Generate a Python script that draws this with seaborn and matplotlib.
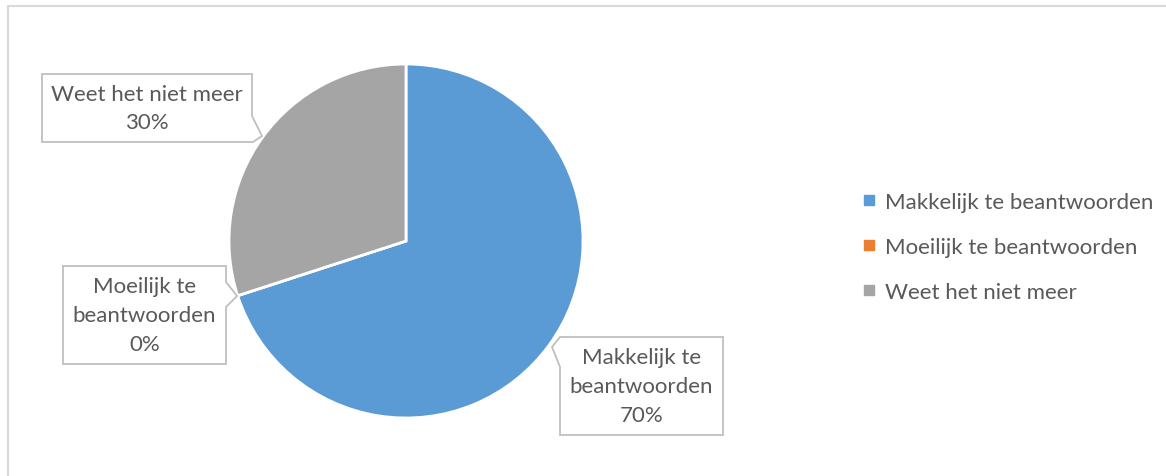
import matplotlib
matplotlib.use("Agg")
import matplotlib.pyplot as plt
from matplotlib.patches import Polygon, Rectangle
from matplotlib.lines import Line2D
import seaborn as sns

categories = ["Makkelijk te beantwoorden", "Moeilijk te beantwoorden", "Weet het niet meer"]
label_texts = ["Makkelijk te\nbeantwoorden", "Moeilijk te\nbeantwoorden", "Weet het niet meer"]
values = [70, 0, 30]
colors = ["#5B9BD5", "#ED7D31", "#A5A5A5"]

sns.set_theme(style="white")
plt.rcParams["font.family"] = ["Lato", "DejaVu Sans"]

W, H = 1166, 477
fig = plt.figure(figsize=(W / 100, H / 100), dpi=100)
ax = fig.add_axes([0, 0, 1, 1])
ax.set_xlim(0, W)
ax.set_ylim(0, H)
ax.axis("off")

def Y(y):
    return H - y

# chart frame (only top and left edges visible)
ax.add_patch(Rectangle((8, Y(7) - 600), 1400, 600, fill=False,
                       edgecolor="#D9D9D9", linewidth=1.5, zorder=0))

wedges, _ = ax.pie(values, colors=colors, startangle=90, counterclock=False,
                   center=(406, Y(242)), radius=177,
                   wedgeprops=dict(edgecolor="white", linewidth=2))
ax.set_xlim(0, W)
ax.set_ylim(0, H)
ax.set_aspect("auto")

txt_color = "#595959"
box_color = "#BFBFBF"
fs = 16

def callout(pts, text, cx, cy):
    poly = Polygon([(x, Y(y)) for x, y in pts], closed=True, facecolor="white",
                   edgecolor=box_color, linewidth=1.3, zorder=5)
    ax.add_patch(poly)
    ax.text(cx, Y(cy), text, ha="center", va="center", color=txt_color,
            fontsize=fs, linespacing=1.55, zorder=6)

# Makkelijk (70%) – tail on upper-left
x0, y0, x1, y1 = 560, 338, 723, 436
callout([(x0, y0), (x1, y0), (x1, y1), (x0, y1), (x0, 368), (552, 348)],
        f"{label_texts[0]}\n{values[0]}%", (x0 + x1) / 2, (y0 + y1) / 2)

# Moeilijk (0%) – tail on right side
x0, y0, x1, y1 = 63, 267, 226, 365
callout([(x0, y0), (x1, y0), (x1, 283), (237, 297), (x1, 308), (x1, y1), (x0, y1)],
        f"{label_texts[1]}\n{values[1]}%", (x0 + x1) / 2, (y0 + y1) / 2)

# Weet (30%) – tail at lower right
x0, y0, x1, y1 = 42, 75, 252, 143
callout([(x0, y0), (x1, y0), (x1, 117), (262, 137), (253, y1), (x0, y1)],
        f"{label_texts[2]}\n{values[2]}%", (x0 + x1) / 2, (y0 + y1) / 2)

handles = [Line2D([0], [0], marker="s", linestyle="none", markersize=7,
                  markerfacecolor=c, markeredgecolor=c) for c in colors]
leg = ax.legend(handles, categories, loc="upper left",
                bbox_to_anchor=(855 / W, 1 - 184 / H), frameon=False,
                fontsize=fs, handlelength=0.5, handletextpad=0.45,
                labelspacing=1.12, borderaxespad=0)
for t in leg.get_texts():
    t.set_color(txt_color)

fig.savefig("out.png", dpi=100, facecolor="white")
